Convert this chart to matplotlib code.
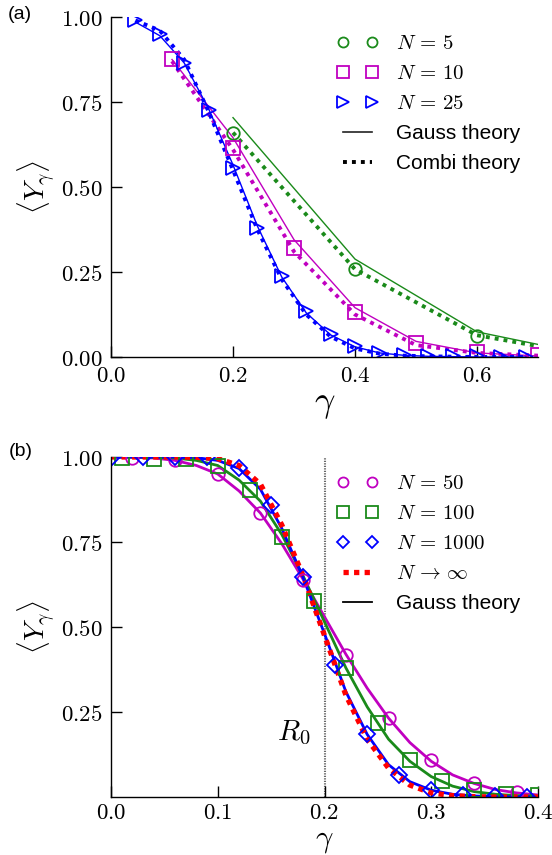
import matplotlib
matplotlib.use("Agg")
import matplotlib.pyplot as plt
from matplotlib.ticker import FixedLocator, FuncFormatter

plt.rcParams['font.family'] = ['Liberation Sans', 'DejaVu Sans']
plt.rcParams['mathtext.fontset'] = 'cm'

# ---------------- Panel (a) data ----------------
g5 = [0.2, 0.4, 0.6]
y5 = [0.66, 0.26, 0.063]
g5_line = [0.2, 0.4, 0.6, 0.8]
gauss5 = [0.704, 0.288, 0.074, 0.0]
combi5 = [0.66, 0.258, 0.064, 0.0]

g10 = [0.1, 0.2, 0.3, 0.4, 0.5, 0.6, 0.7]
y10 = [0.877, 0.615, 0.322, 0.132, 0.041, 0.014, 0.007]
gauss10 = [0.875, 0.645, 0.345, 0.145, 0.046, 0.012, 0.003]
combi10 = [0.87, 0.61, 0.31, 0.125, 0.035, 0.012, 0.004]

g25 = [0.04, 0.08, 0.12, 0.16, 0.20, 0.24, 0.28, 0.32, 0.36, 0.40, 0.44,
       0.48, 0.52, 0.56, 0.60, 0.64, 0.68]
y25 = [0.99, 0.95, 0.866, 0.725, 0.556, 0.38, 0.237, 0.135, 0.068, 0.031,
       0.012, 0.007, 0.004, 0.003, 0.002, 0.001, 0.001]
gauss25 = [0.985, 0.945, 0.865, 0.73, 0.565, 0.385, 0.235, 0.13, 0.065,
           0.03, 0.012, 0.005, 0.002, 0.001, 0.0, 0.0, 0.0]
combi25 = [0.99, 0.96, 0.875, 0.722, 0.55, 0.375, 0.228, 0.125, 0.06,
           0.025, 0.01, 0.004, 0.002, 0.001, 0.0, 0.0, 0.0]

# ---------------- Panel (b) data ----------------
g50 = [0.02, 0.06, 0.10, 0.14, 0.18, 0.22, 0.26, 0.30, 0.34, 0.38]
y50 = [0.998, 0.99, 0.951, 0.834, 0.639, 0.419, 0.233, 0.108, 0.042, 0.016]

g100 = [0.01, 0.04, 0.07, 0.10, 0.13, 0.16, 0.19, 0.22, 0.25, 0.28, 0.31,
        0.34, 0.37, 0.40]
y100 = [0.996, 0.995, 0.993, 0.973, 0.902, 0.766, 0.577, 0.38, 0.218, 0.108,
        0.047, 0.02, 0.008, 0.005]

g1000 = [0.0, 0.03, 0.06, 0.09, 0.12, 0.15, 0.18, 0.21, 0.24, 0.27, 0.30,
         0.33, 0.36, 0.39]
y1000 = [0.997, 0.999, 0.999, 0.999, 0.968, 0.858, 0.646, 0.388, 0.184,
         0.066, 0.02, 0.007, 0.002, 0.001]

g_curve = [0.00, 0.02, 0.04, 0.06, 0.08, 0.10, 0.12, 0.14, 0.16, 0.18, 0.20,
           0.22, 0.24, 0.26, 0.28, 0.30, 0.32, 0.34, 0.36, 0.38, 0.40]
gauss50 = [1.0, 0.999, 0.997, 0.99, 0.975, 0.95, 0.90, 0.835, 0.745, 0.64,
           0.53, 0.42, 0.32, 0.232, 0.16, 0.105, 0.065, 0.04, 0.022, 0.012, 0.006]
gauss100 = [1.0, 1.0, 0.999, 0.997, 0.99, 0.975, 0.932, 0.87, 0.772, 0.65,
            0.515, 0.38, 0.265, 0.17, 0.105, 0.06, 0.032, 0.016, 0.008, 0.004, 0.002]
gauss1000 = [1.0, 1.0, 1.0, 1.0, 0.998, 0.99, 0.966, 0.905, 0.79, 0.645,
             0.48, 0.31, 0.184, 0.095, 0.045, 0.02, 0.008, 0.003, 0.001, 0.0, 0.0]
ginf = [1.0, 1.0, 1.0, 1.0, 0.999, 0.995, 0.975, 0.92, 0.80, 0.65, 0.475,
        0.30, 0.17, 0.085, 0.035, 0.012, 0.004, 0.001, 0.0, 0.0, 0.0]

R0 = 0.2

GREEN = '#1a8a1a'
MAG = '#c000c0'
BLUE = '#0000ff'

fig = plt.figure(figsize=(5.52, 8.55), dpi=100)
W, H = 552.0, 855.0
axa = fig.add_axes([111 / W, 1 - 357 / H, 427 / W, 340 / H])
axb = fig.add_axes([111 / W, 1 - 797 / H, 427 / W, 340 / H])

dot_a = (0, (1, 1.3))
mk = dict(linestyle='none', mfc='none', mew=1.3)

# ---- Panel (a)
axa.plot(g5_line, gauss5, color=GREEN, lw=1.0)
axa.plot(g5_line, combi5, color=GREEN, lw=2.8, ls=dot_a)
axa.plot(g10, gauss10, color=MAG, lw=1.0)
axa.plot(g10, combi10, color=MAG, lw=2.8, ls=dot_a)
axa.plot(g25, gauss25, color=BLUE, lw=1.0)
axa.plot(g25, combi25, color=BLUE, lw=2.8, ls=dot_a)
h5, = axa.plot(g5, y5, marker='o', ms=9, mec=GREEN, **mk)
h10, = axa.plot(g10, y10, marker='s', ms=10, mec=MAG, **mk)
h25, = axa.plot(g25, y25, marker='>', ms=10, mec=BLUE, **mk)
hg, = axa.plot([], [], color='#222222', lw=1.2)
hc, = axa.plot([], [], color='black', lw=2.8, ls=dot_a)

axa.set_xlim(0, 0.7)
axa.set_ylim(0, 1.0)
axa.xaxis.set_major_locator(FixedLocator([0.0, 0.2, 0.4, 0.6]))
axa.yaxis.set_major_locator(FixedLocator([0.0, 0.25, 0.5, 0.75, 1.0]))

leg_kw = dict(loc='upper left', bbox_transform=fig.transFigure, frameon=False,
              fontsize=15, numpoints=2, handlelength=2.0, handletextpad=0.85,
              labelspacing=0.53, borderpad=0, borderaxespad=0, markerscale=0.8)

leg_a = axa.legend([h5, h10, h25, hg, hc],
                   [r'$N\,=\,5$', r'$N\,=\,10$', r'$N\,=\,25$', 'Gauss theory', 'Combi theory'],
                   bbox_to_anchor=(337 / W, 1 - 34 / H), **leg_kw)

# ---- Panel (b)
axb.axvline(R0, color='#666666', lw=1.5, ls=(0, (0.6, 0.6)), zorder=1)
axb.plot(g_curve, gauss50, color=MAG, lw=2.0)
axb.plot(g_curve, gauss100, color=GREEN, lw=2.0)
axb.plot(g_curve, gauss1000, color=BLUE, lw=2.0)
hinf, = axb.plot(g_curve, ginf, color='#ff0000', lw=3.8, ls=(0, (1, 1)))
h50, = axb.plot(g50, y50, marker='o', ms=9, mec=MAG, **mk)
h100, = axb.plot(g100, y100, marker='s', ms=10, mec=GREEN, **mk)
h1000, = axb.plot(g1000, y1000, marker='D', ms=8, mec=BLUE, **mk)
hgb, = axb.plot([], [], color='black', lw=1.3)

axb.text(0.171, 0.19, r'$R_0$', fontsize=21, ha='center', va='center')

axb.set_xlim(0, 0.4)
axb.set_ylim(0, 1.0)
axb.xaxis.set_major_locator(FixedLocator([0.0, 0.1, 0.2, 0.3, 0.4]))
axb.yaxis.set_major_locator(FixedLocator([0.25, 0.5, 0.75, 1.0]))

leg_b = axb.legend([h50, h100, h1000, hinf, hgb],
                   [r'$N\,=\,50$', r'$N\,=\,100$', r'$N\,=\,1000$', r'$N\,\to\,\infty$', 'Gauss theory'],
                   bbox_to_anchor=(337 / W, 1 - 474 / H), **leg_kw)

for ax, xl_y, xl_fs, xpad in ((axa, -0.085, 26, 5), (axb, -0.083, 22, 3)):
    ax.spines['top'].set_visible(False)
    ax.spines['right'].set_visible(False)
    for s in ('left', 'bottom'):
        ax.spines[s].set_linewidth(1.0)
    ax.tick_params(direction='in', length=8, width=1.0, labelsize=16.5)
    ax.tick_params(axis='y', pad=6)
    ax.tick_params(axis='x', pad=xpad)
    ax.xaxis.set_major_formatter(FuncFormatter(lambda v, p: '${:.1f}$'.format(v)))
    ax.yaxis.set_major_formatter(FuncFormatter(lambda v, p: '${:.2f}$'.format(v)))
    ax.set_xlabel(r'$\gamma$', fontsize=xl_fs)
    ax.set_ylabel(r'$\langle Y_{\gamma}\rangle$', fontsize=20)
    ax.yaxis.set_label_coords(-0.125, 0.5)
    ax.xaxis.set_label_coords(0.5, xl_y)

fig.text(8 / W, 1 - 6 / H, '(a)', fontsize=14, ha='left', va='top')
fig.text(9 / W, 1 - 443 / H, '(b)', fontsize=14, ha='left', va='top')

fig.savefig('out.png', dpi=100)
